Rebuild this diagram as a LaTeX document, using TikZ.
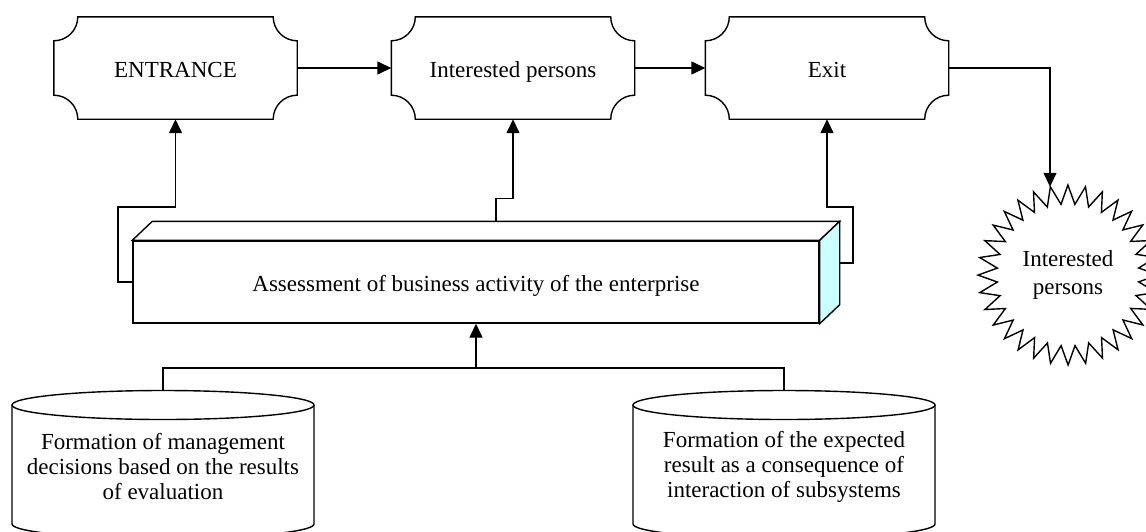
\documentclass[tikz,border=0pt]{standalone}
\usepackage{fontspec}
\setmainfont{Liberation Serif}
\usetikzlibrary{arrows.meta,calc}
\definecolor{sidecyan}{RGB}{204,255,255}
\tikzset{
 ln/.style={line width=1.4pt, line join=miter},
 arr/.style={ln, -{Triangle[length=14pt,width=13pt]}},
 txt/.style={font=\fontsize{23}{25}\selectfont, align=center, inner sep=0pt},
 notchbox/.style={txt, minimum width=243pt, minimum height=102pt, text height=18pt, text depth=0pt},
}
\newcommand\notchoutline[1]{%
 \draw[ln] ([xshift=24pt]#1.north west) -- ([xshift=-24pt]#1.north east)
  arc[start angle=180,end angle=270,radius=24pt]
  -- ([yshift=24pt]#1.south east) arc[start angle=90,end angle=180,radius=24pt]
  -- ([xshift=24pt]#1.south west) arc[start angle=0,end angle=90,radius=24pt]
  -- ([yshift=-24pt]#1.north west) arc[start angle=270,end angle=360,radius=24pt] -- cycle;}
\begin{document}
\begin{tikzpicture}[x=1pt,y=-1pt]
\useasboundingbox (0,0) rectangle (1146,531);
\clip (0,0) rectangle (1146,531);
% top row
\node[notchbox] (entr) at (175.5,68) {ENTRANCE};
\node[notchbox] (ip) at (513,68) {Interested persons};
\node[notchbox] (exit) at (827,68) {Exit};
\notchoutline{entr}\notchoutline{ip}\notchoutline{exit}
% 3D box
\node[ln, draw, fill=white, txt, minimum width=686pt, minimum height=82pt, text height=18pt, text depth=0pt] (assess) at (476,282) {Assessment of business activity of the enterprise};
\draw[ln, fill=white] (assess.north west) -- ++(20,-19) -- ($(assess.north east)+(20,-19)$) -- (assess.north east) -- cycle;
\draw[ln, fill=sidecyan] (assess.north east) -- ++(20,-19) -- ($(assess.south east)+(20,-19)$) -- (assess.south east) -- cycle;
% star
\node[circle, minimum size=180pt, txt, font=\fontsize{23}{28}\selectfont] (star) at (1068,275) {Interested\\persons};
\draw[ln] ($(star.center)+(-101.3:90)$) \foreach \i in {1,...,63}{ -- ($(star.center)+({-101.3+\i*5.625}:{90-19*mod(\i,2)})$) } -- cycle;
% cylinders
\draw[ln] (12,405) -- (12,524) arc[start angle=180,end angle=360,x radius=151pt,y radius=14.5pt] -- (314,405);
\draw[ln] (163,405) ellipse[x radius=151pt,y radius=14.5pt];
\draw[ln] (633,405) -- (633,524) arc[start angle=180,end angle=360,x radius=151pt,y radius=14.5pt] -- (935,405);
\draw[ln] (784,405) ellipse[x radius=151pt,y radius=14.5pt];
\coordinate (c1top) at (163,390.5);
\coordinate (c2top) at (784,390.5);
\coordinate (join) at (476,368);
\node[txt] (c1) at (163,467) {Formation of management\\decisions based on the results\\of evaluation};
\node[txt] (c2) at (784,467) {Formation of the expected\\result as a consequence of\\interaction of subsystems};
% connectors
\draw[arr] (entr.east) -- (ip.west);
\draw[arr] (ip.east) -- (exit.west);
\draw[arr] (exit.east) -| ($(star.north)+(-18,2)$);
\draw[arr] (assess.west) -| (118,207) -| (entr.south);
\draw[arr] ([xshift=20pt,yshift=19pt]assess.north) -- ++(0,-23) -| (ip.south);
\draw[arr] ([xshift=20pt,yshift=19pt]assess.east) -| (853,207) -| (exit.south);
\draw[ln] (c1top) |- (join) -| (c2top);
\draw[arr] (join) -- (assess.south);
\end{tikzpicture}
\end{document}
